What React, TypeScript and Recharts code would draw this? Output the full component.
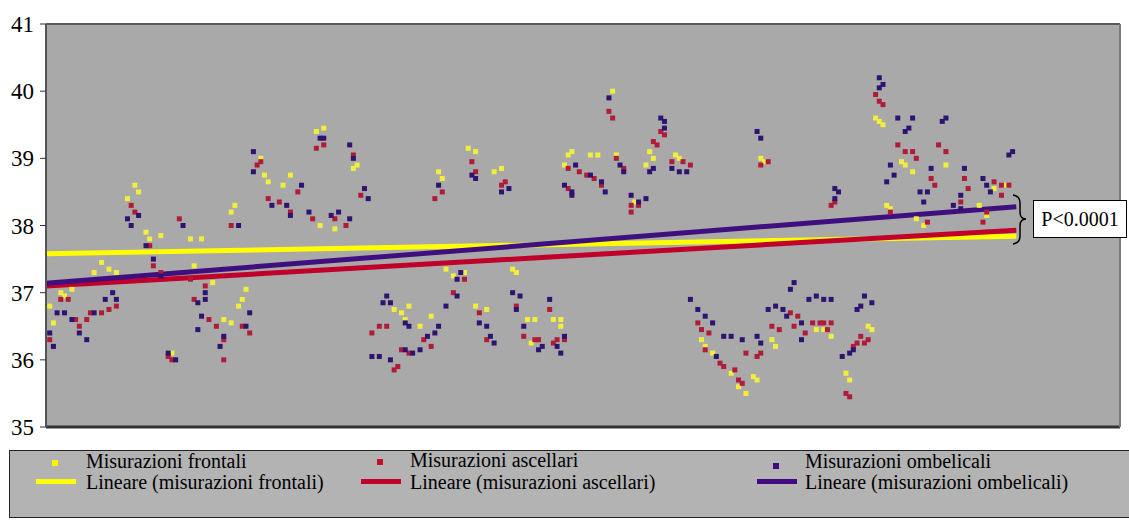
import { ScatterChart, Scatter, XAxis, YAxis, CartesianGrid, ReferenceLine } from "recharts";

// measurement index (x) and temperature in °C (y)
const frontali: [number, number][] = [
  [1, 36.8], [2, 36.55], [4, 37.0], [5, 36.95], [7, 37.05], [13, 37.3], [15, 37.45], [17, 37.35], [19, 37.3],
  [22, 38.4], [24, 38.6], [25, 38.5], [27, 37.9], [28, 37.8], [31, 37.85], [34, 36.1], [39, 37.8], [40, 37.4], [42, 37.8], [45, 37.15],
  [48, 36.6], [50, 36.55], [50, 38.2], [51, 38.3], [52, 36.8], [53, 36.9], [54, 37.05],
  [58, 39.0], [59, 38.75], [60, 38.65], [64, 38.6], [66, 38.75], [73, 39.4], [74, 38.0], [75, 39.45], [78, 37.95], [83, 38.85], [84, 38.9],
  [94, 36.75], [96, 36.7], [97, 36.6], [98, 36.8], [101, 36.5], [104, 36.65],
  [106, 38.8], [107, 38.7], [108, 37.35], [110, 37.25], [113, 37.3], [114, 39.15], [116, 39.1], [116, 36.8], [119, 36.75],
  [121, 38.8], [123, 38.85], [126, 37.35], [127, 37.3], [130, 36.6], [131, 36.25], [132, 36.6], [137, 36.6], [139, 36.5], [139, 36.6],
  [140, 38.9], [141, 39.05], [142, 39.1], [147, 39.05], [149, 39.05], [153, 40.0], [154, 39.05], [159, 38.35],
  [162, 38.9], [163, 39.1], [164, 39.0], [170, 39.05], [171, 39.0],
  [177, 36.3], [178, 36.2], [180, 36.1], [185, 35.8], [187, 35.6], [189, 35.5], [191, 35.75], [192, 35.7],
  [193, 39.0], [194, 38.95], [196, 36.3], [197, 36.2], [208, 36.45], [210, 36.45], [212, 36.35], [216, 35.8], [217, 35.7], [222, 36.5], [223, 36.45],
  [224, 39.6], [225, 39.55], [226, 39.5], [227, 38.3], [228, 38.25], [231, 38.95], [232, 38.9], [234, 38.8], [235, 38.1], [237, 38.0],
  [243, 38.9], [252, 38.3], [254, 38.15], [256, 38.55], [259, 38.6],
];

const ascellari: [number, number][] = [
  [1, 36.3], [4, 36.9], [6, 36.9], [8, 36.6], [9, 36.5], [11, 36.6], [12, 36.7], [15, 36.7], [17, 36.75], [19, 36.8],
  [23, 38.3], [24, 38.2], [28, 37.7], [29, 37.4], [31, 37.3], [33, 36.05], [34, 36.0], [36, 38.1],
  [39, 37.2], [40, 36.9], [43, 37.1], [44, 36.6], [46, 36.5], [48, 36.3], [48, 36.0], [50, 38.0], [53, 36.5], [55, 36.4],
  [57, 38.9], [58, 38.95], [60, 38.4], [63, 38.35], [66, 38.2], [68, 38.5], [72, 38.1], [73, 39.15], [75, 39.2], [78, 38.1], [81, 38.0], [83, 39.05], [85, 38.45],
  [88, 36.4], [90, 36.5], [92, 36.5], [94, 35.85], [95, 35.9], [96, 36.15], [98, 36.1], [102, 36.3], [104, 36.2],
  [105, 38.4], [107, 38.5], [110, 37.0], [113, 37.2], [115, 38.95], [116, 38.8], [117, 36.7], [119, 36.3],
  [123, 38.6], [124, 38.65], [127, 36.8], [129, 36.35], [132, 36.3], [133, 36.3], [136, 36.75], [137, 36.25], [138, 36.3], [140, 36.3],
  [141, 38.85], [141, 38.55], [144, 38.8], [146, 38.75], [148, 38.7], [150, 38.6], [152, 39.7], [153, 39.6], [154, 39.0], [156, 38.85],
  [158, 38.3], [158, 38.2], [160, 38.3], [164, 39.25], [165, 39.2], [166, 39.4], [167, 39.35], [169, 38.95], [172, 38.95], [174, 38.9],
  [176, 36.55], [177, 36.45], [178, 36.15], [179, 36.4], [182, 35.95], [183, 35.9], [186, 35.85], [187, 35.7], [188, 35.65], [189, 36.1], [192, 36.05], [193, 36.1],
  [193, 38.9], [195, 38.95], [196, 36.5], [198, 36.45], [201, 36.7], [202, 36.5], [203, 36.65], [205, 36.4], [207, 36.55], [209, 36.55], [210, 36.55], [211, 36.45], [212, 36.55],
  [212, 38.3], [213, 38.35], [216, 35.5], [217, 35.45], [218, 36.2], [219, 36.25], [220, 36.35], [221, 36.25], [222, 36.3],
  [224, 39.95], [225, 39.85], [226, 39.8], [228, 38.2], [230, 39.2], [232, 39.1], [234, 39.1], [235, 39.0], [238, 38.05], [239, 38.7], [240, 38.6], [241, 39.2], [243, 39.1],
  [247, 38.35], [248, 38.7], [249, 38.55], [253, 38.05], [254, 38.2], [256, 38.65], [258, 38.6], [258, 38.45], [260, 38.6],
];

const ombelicali: [number, number][] = [
  [1, 36.4], [2, 36.2], [3, 36.7], [5, 36.7], [7, 36.6], [9, 36.4], [11, 36.3], [13, 36.7], [16, 36.9], [18, 37.0], [19, 36.9],
  [22, 38.1], [23, 38.0], [25, 38.15], [27, 37.7], [29, 37.5], [31, 37.25], [33, 36.1], [35, 36.0], [37, 38.0],
  [41, 36.85], [41, 36.45], [42, 36.65], [43, 37.0], [43, 36.9], [47, 36.2], [48, 36.35], [52, 38.0], [54, 36.5], [55, 36.7],
  [56, 39.1], [56, 38.8], [61, 38.3], [65, 38.3], [66, 38.15], [69, 38.6], [71, 38.2], [74, 39.3], [75, 39.3], [77, 38.15], [79, 38.2], [82, 38.1], [82, 39.2], [83, 39.0], [86, 38.55], [87, 38.4],
  [88, 36.05], [90, 36.05], [91, 36.85], [92, 36.95], [93, 36.85], [93, 36.0], [97, 36.15], [97, 36.55], [98, 36.5], [99, 36.1], [101, 36.15], [103, 36.35], [105, 36.4], [106, 36.5],
  [106, 38.6], [108, 36.8], [111, 37.2], [111, 36.95], [112, 37.3], [115, 38.75], [116, 38.7], [117, 36.55], [119, 36.5], [120, 36.35], [121, 36.25],
  [123, 38.5], [125, 38.55], [126, 37.0], [127, 36.75], [128, 36.95], [129, 36.5], [133, 36.15], [134, 36.2], [136, 36.9], [138, 36.2], [139, 36.1], [140, 36.35],
  [140, 38.6], [142, 38.5], [142, 38.45], [143, 38.9], [147, 38.75], [150, 38.65], [151, 38.5], [152, 39.9], [155, 38.9], [156, 38.8],
  [158, 38.45], [160, 38.35], [162, 38.4], [163, 38.8], [164, 38.85], [166, 39.6], [167, 39.55], [167, 39.45], [169, 38.85], [171, 38.8], [173, 38.8],
  [174, 36.9], [176, 36.75], [178, 36.65], [180, 36.55], [181, 36.05], [183, 36.35], [185, 36.35], [188, 36.3], [192, 36.35], [193, 36.25],
  [192, 39.4], [193, 39.3], [195, 36.75], [197, 36.8], [199, 36.75], [200, 36.65], [201, 37.05], [202, 37.15], [204, 36.55], [204, 36.3], [206, 36.9], [208, 36.95], [210, 36.9], [212, 36.9],
  [213, 38.55], [213, 38.4], [214, 38.5], [215, 36.05], [217, 36.1], [218, 36.15], [219, 36.75], [220, 36.8], [221, 36.95], [223, 36.85],
  [225, 40.2], [226, 40.1], [225, 40.05], [227, 38.65], [228, 38.9], [229, 38.75], [230, 39.6], [232, 39.4], [233, 39.45], [234, 39.6], [236, 38.5], [237, 38.35], [238, 38.5], [239, 38.85],
  [242, 39.55], [243, 39.6], [245, 38.3], [247, 38.25], [247, 38.45], [248, 38.85], [253, 38.7], [254, 38.6], [255, 38.5], [260, 39.05], [261, 39.1],
];

// linear trend lines: [x, y] at start and end of the data range
const trendFrontali: [number, number][] = [[0, 37.58], [262, 37.84]];
const trendAscellari: [number, number][] = [[0, 37.1], [262, 37.93]];
const trendOmbelicali: [number, number][] = [[0, 37.14], [262, 38.28]];

const yTicks = [35, 36, 37, 38, 39, 40, 41];
const X_MAX = 290;

const YELLOW = "#F2EE3C";
const RED = "#B01C38";
const PURPLE = "#2E1470";

const legendItems = [
  { label: "Misurazioni frontali", trend: "Lineare (misurazioni frontali)", color: "#FFF200", line: "#FFFF00", lineX: 36, markX: 52, markY: 460, textX: 86, textY: 454 },
  { label: "Misurazioni ascellari", trend: "Lineare (misurazioni ascellari)", color: "#C0102A", line: "#C0002A", lineX: 361, markX: 377, markY: 459, textX: 410, textY: 453 },
  { label: "Misurazioni ombelicali", trend: "Lineare (misurazioni ombelicali)", color: "#400A80", line: "#400A80", lineX: 757, markX: 773, markY: 463, textX: 805, textY: 454 },
];

const toPoints = (arr: [number, number][]) => arr.map(([x, y]) => ({ x, y }));

const square = (color: string) => (props: any) => (
  <rect x={props.cx - 2.5} y={props.cy - 2.5} width={5} height={5} fill={color} />
);

const serif = "'Liberation Serif', 'Times New Roman', serif";

export default function App() {
  return (
    <div
      style={{
        position: "absolute",
        left: 0,
        top: 0,
        width: 1129,
        height: 521,
        background: "#fff",
        overflow: "hidden",
        fontFamily: serif,
      }}
    >
      <ScatterChart width={1129} height={440} margin={{ top: 24, right: 9, bottom: 13, left: 0 }}>
        <CartesianGrid fill="#A9A9A9" horizontal={false} vertical={false} />
        <XAxis type="number" dataKey="x" domain={[0, X_MAX]} hide allowDataOverflow />
        <YAxis
          type="number"
          dataKey="y"
          domain={[35, 41]}
          ticks={yTicks}
          interval={0}
          width={46}
          axisLine={false}
          tickLine={{ stroke: "#333" }}
          tickSize={6}
          tickMargin={6}
          tick={{ fontSize: 23, fill: "#000", fontFamily: serif }}
          allowDataOverflow
        />
        <Scatter data={toPoints(frontali)} shape={square(YELLOW)} isAnimationActive={false} />
        <Scatter data={toPoints(ascellari)} shape={square(RED)} isAnimationActive={false} />
        <Scatter data={toPoints(ombelicali)} shape={square(PURPLE)} isAnimationActive={false} />
        <ReferenceLine segment={trendFrontali.map(([x, y]) => ({ x, y }))} stroke="#FFFF00" strokeWidth={5} />
        <ReferenceLine segment={trendAscellari.map(([x, y]) => ({ x, y }))} stroke="#C0002A" strokeWidth={5} />
        <ReferenceLine segment={trendOmbelicali.map(([x, y]) => ({ x, y }))} stroke="#3F0F80" strokeWidth={5} />
        <ReferenceLine y={41} stroke="#5a5a5a" strokeWidth={2} />
        <ReferenceLine y={35} stroke="#333" strokeWidth={3} />
        <ReferenceLine x={0} stroke="#555" strokeWidth={2} />
        <ReferenceLine x={X_MAX} stroke="#7a7a7a" strokeWidth={2} />
      </ScatterChart>

      <svg style={{ position: "absolute", left: 0, top: 0 }} width={1129} height={521}>
        <path
          d="M1013 195 Q1020 196 1020 203 L1020 212 Q1020 219 1026 219 Q1020 219 1020 226 L1020 236 Q1020 243 1013 244"
          fill="none"
          stroke="#000"
          strokeWidth={1.5}
        />
      </svg>
      <div
        style={{
          position: "absolute",
          left: 1033,
          top: 200,
          width: 92,
          height: 36,
          background: "#fff",
          border: "1px solid #000",
          fontSize: 20,
          lineHeight: "36px",
          textAlign: "center",
        }}
      >
        P&lt;0.0001
      </div>

      <div
        style={{
          position: "absolute",
          left: 9,
          top: 450,
          width: 1130,
          height: 66,
          background: "#B3B3B3",
          border: "1.5px solid #222",
        }}
      />
      {legendItems.map((it) => (
        <div key={it.label}>
          <div
            style={{
              position: "absolute",
              left: it.markX,
              top: it.markY,
              width: 6,
              height: 6,
              background: it.color,
            }}
          />
          <div
            style={{
              position: "absolute",
              left: it.lineX,
              top: 479,
              width: 40,
              height: 5,
              background: it.line,
            }}
          />
          <div style={{ position: "absolute", left: it.textX, top: it.textY, fontSize: 20, lineHeight: "15px", whiteSpace: "nowrap" }}>
            {it.label}
          </div>
          <div style={{ position: "absolute", left: it.textX, top: 475, fontSize: 20, lineHeight: "15px", whiteSpace: "nowrap" }}>
            {it.trend}
          </div>
        </div>
      ))}
    </div>
  );
}
